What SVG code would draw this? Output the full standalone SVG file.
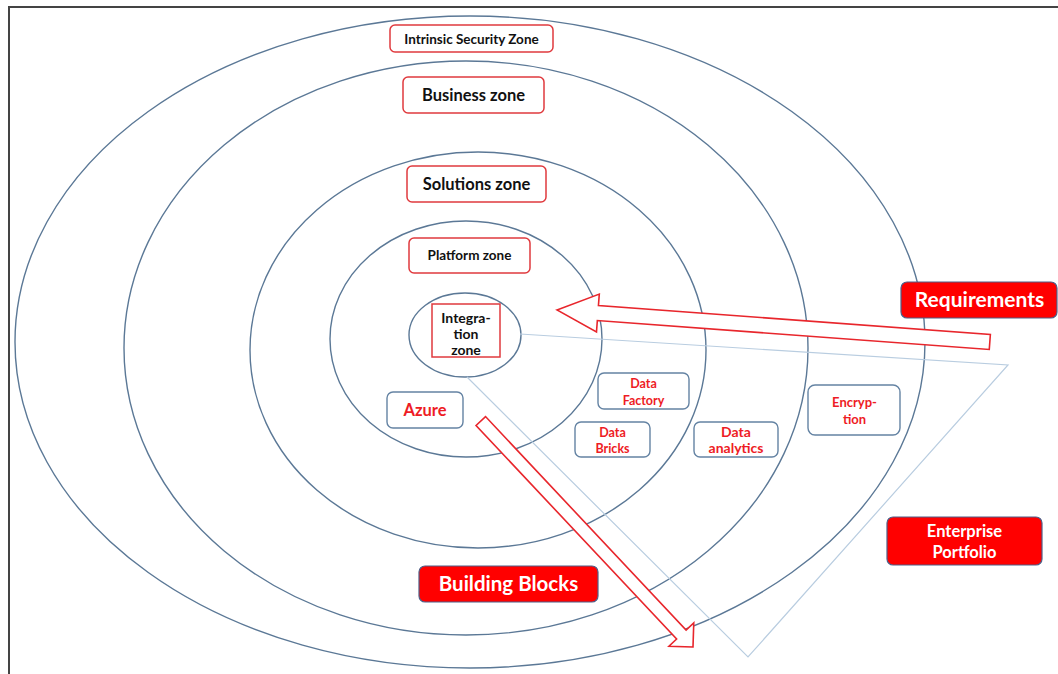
<svg xmlns="http://www.w3.org/2000/svg" width="1058" height="674" viewBox="0 0 1058 674">
<style>
.zone{fill:none;stroke:#5b7896;stroke-width:1.4}
.tri{fill:none;stroke:#b9cde0;stroke-width:1.2}
.lbl{fill:#fff;stroke:#e03a3e;stroke-width:1.5}
.blu{fill:#fff;stroke:#6483a3;stroke-width:1.4}
.red{fill:#ff0000;stroke:#4f5f88;stroke-width:1.2}
.arr{fill:#fff;stroke:#e8262c;stroke-width:1.6;stroke-linejoin:miter}
text{font-family:Lato,"Open Sans","Liberation Sans",sans-serif;font-weight:bold;text-anchor:middle}
.tb{fill:#111}
.tr{fill:#ee1c25}
.tw{fill:#fff}
</style>
<rect width="1058" height="674" fill="#fff"/>
<path d="M9 674 V7 H1058" fill="none" stroke="#444" stroke-width="2"/>
<g id="zones">
<ellipse class="zone" cx="470" cy="342" rx="455" ry="326"/>
<ellipse class="zone" cx="466" cy="348" rx="342" ry="287"/>
<ellipse class="zone" cx="478" cy="350" rx="228" ry="198"/>
<ellipse class="zone" cx="466" cy="339" rx="136" ry="118"/>
<ellipse class="zone" cx="465" cy="335" rx="56" ry="42"/>
</g>
<g id="connectors">
<path class="tri" d="M520 334 L1008 365 L748 657 L467 377"/>
<path class="arr" transform="translate(557,310) rotate(4.23)" d="M0 0 L41 -19 L41 -7.5 L434 -7.5 L434 7.5 L41 7.5 L41 19 Z"/>
<path class="arr" transform="translate(693,647) rotate(226.8)" d="M0 0 L17 -17 L17 -6.5 L310 -6.5 L310 6.5 L17 6.5 L17 17 Z"/>
</g>
<g id="intrinsic">
<rect class="lbl" x="390" y="25" width="163" height="27" rx="5"/>
<text class="tb" x="471.5" y="43.5" font-size="13.5">Intrinsic Security Zone</text>
</g>
<g id="business">
<rect class="lbl" x="403" y="77" width="141" height="36" rx="5"/>
<text class="tb" x="473.5" y="101" font-size="16.5">Business zone</text>
</g>
<g id="solutions">
<rect class="lbl" x="407" y="166" width="139" height="36" rx="5"/>
<text class="tb" x="476.5" y="190" font-size="16.5">Solutions zone</text>
</g>
<g id="platform">
<rect class="lbl" x="409" y="238" width="121" height="35" rx="5"/>
<text class="tb" x="469.5" y="260" font-size="13.5">Platform zone</text>
</g>
<g id="integration">
<rect class="lbl" x="432" y="304" width="68" height="53" rx="0"/>
<text class="tb" font-size="14"><tspan x="466" y="323">Integra-</tspan><tspan x="466" y="339">tion</tspan><tspan x="466" y="355">zone</tspan></text>
</g>
<g id="azure">
<rect class="blu" x="387" y="392" width="76" height="36" rx="6"/>
<text class="tr" x="425" y="415.5" font-size="16.5">Azure</text>
</g>
<g id="datafactory">
<rect class="blu" x="598" y="373" width="91" height="36" rx="6"/>
<text class="tr" font-size="12.5"><tspan x="643.5" y="388">Data</tspan><tspan x="643.5" y="405">Factory</tspan></text>
</g>
<g id="databricks">
<rect class="blu" x="575" y="422" width="75" height="35" rx="6"/>
<text class="tr" font-size="12.5"><tspan x="612.5" y="437">Data</tspan><tspan x="612.5" y="453">Bricks</tspan></text>
</g>
<g id="dataanalytics">
<rect class="blu" x="694" y="422" width="84" height="35" rx="6"/>
<text class="tr" font-size="14"><tspan x="736" y="437">Data</tspan><tspan x="736" y="453">analytics</tspan></text>
</g>
<g id="encryption">
<rect class="blu" x="808" y="385" width="92" height="50" rx="7"/>
<text class="tr" font-size="13"><tspan x="854.5" y="407">Encryp-</tspan><tspan x="854.5" y="424">tion</tspan></text>
</g>
<g id="requirements">
<rect class="red" x="901" y="282" width="156" height="36" rx="6"/>
<text class="tw" x="979.5" y="307" font-size="21">Requirements</text>
</g>
<g id="enterprise">
<rect class="red" x="887" y="517" width="155" height="48" rx="6"/>
<text class="tw" font-size="16.5"><tspan x="964.5" y="537">Enterprise</tspan><tspan x="964.5" y="558">Portfolio</tspan></text>
</g>
<g id="buildingblocks">
<rect class="red" x="419" y="566" width="179" height="36" rx="6"/>
<text class="tw" x="508.5" y="591" font-size="20.5">Building Blocks</text>
</g>
</svg>
